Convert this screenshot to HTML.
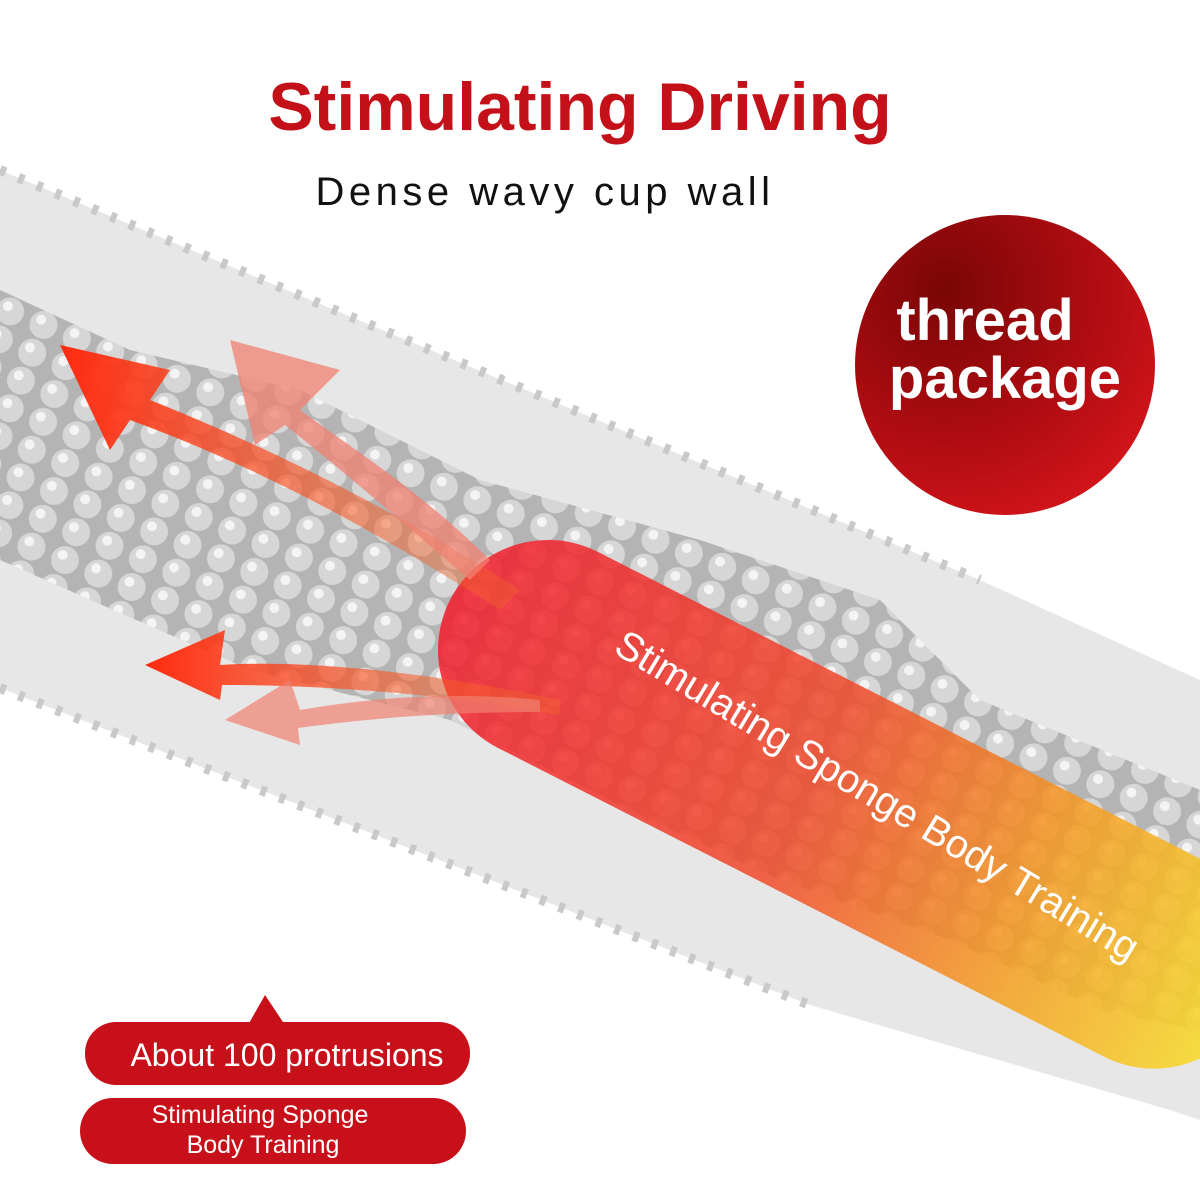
<!DOCTYPE html>
<html><head><meta charset="utf-8"><style>
html,body{margin:0;padding:0;background:#fff;}
svg{display:block}
</style></head><body>
<svg width="1200" height="1200" viewBox="0 0 1200 1200" xmlns="http://www.w3.org/2000/svg">
<defs>
<linearGradient id="blob" x1="0" y1="0" x2="1" y2="0">
<stop offset="0" stop-color="#f21c2c" stop-opacity="0.85"/>
<stop offset="0.45" stop-color="#f04a2a" stop-opacity="0.85"/>
<stop offset="0.75" stop-color="#f5a020" stop-opacity="0.85"/>
<stop offset="1" stop-color="#f7e030" stop-opacity="0.9"/>
</linearGradient>
<radialGradient id="circ" cx="0.3" cy="0.25" r="0.9">
<stop offset="0" stop-color="#7a0606"/>
<stop offset="0.6" stop-color="#b30d12"/>
<stop offset="1" stop-color="#d9161c"/>
</radialGradient>
<linearGradient id="arr" x1="1" y1="0" x2="0" y2="0">
<stop offset="0" stop-color="#f5702a" stop-opacity="0.3"/>
<stop offset="1" stop-color="#ff2a10"/>
</linearGradient>
<pattern id="dots" width="36" height="30" patternUnits="userSpaceOnUse" patternTransform="rotate(22)">
<rect width="36" height="30" fill="#b4b4b4"/>
<circle cx="18" cy="15" r="14" fill="#d6d6d6"/>
<circle cx="14" cy="11" r="5" fill="#f4f4f4"/>
</pattern>
</defs>
<polygon points="0,170 980,580 1200,680 1200,1120 1170,1110 810,1005 0,688" fill="#e7e7e7"/>
<polyline points="0,170 980,580" stroke="#c9c9c9" stroke-width="10" stroke-dasharray="6 14" fill="none"/>
<polyline points="0,688 810,1005" stroke="#c9c9c9" stroke-width="10" stroke-dasharray="6 14" fill="none"/>
<path d="M0,290 L130,350 L300,390 L480,480 L700,540 L880,600 L980,700 L1200,790 L1200,1030 L1100,1010 L950,940 L780,880 L650,820 L450,720 L250,670 L0,560 Z" fill="url(#dots)"/>
<g transform="translate(450,600) rotate(27)">
<rect x="0" y="-110" width="900" height="220" rx="110" fill="url(#blob)"/>
</g>
<path d="M520,590 C380,500 250,440 150,400 L170,370 L60,345 L110,450 L130,420 C240,460 360,520 500,610 Z" fill="url(#arr)"/>
<path d="M490,560 C420,490 340,440 300,410 L340,370 L230,340 L255,445 L285,425 C330,460 400,520 470,580 Z" fill="#f08070" opacity="0.75"/>
<path d="M560,700 C420,670 300,660 220,665 L225,630 L145,665 L220,700 L222,685 C300,685 420,690 560,715 Z" fill="url(#arr)"/>
<path d="M540,700 C440,690 360,700 300,710 L290,680 L225,720 L300,745 L298,728 C370,718 450,712 540,712 Z" fill="#f08070" opacity="0.7"/>
<text x="580" y="130" text-anchor="middle" font-family="Liberation Sans, sans-serif" font-weight="bold" font-size="68" fill="#c41018" stroke="#fff" stroke-width="6" paint-order="stroke">Stimulating Driving</text>
<text x="545" y="205" text-anchor="middle" font-family="Liberation Sans, sans-serif" font-size="40" letter-spacing="4.5" fill="#111">Dense wavy cup wall</text>
<circle cx="1005" cy="365" r="150" fill="url(#circ)"/>
<text x="985" y="340" text-anchor="middle" font-family="Liberation Sans, sans-serif" font-weight="bold" font-size="58" fill="#fff">thread</text>
<text x="1005" y="398" text-anchor="middle" font-family="Liberation Sans, sans-serif" font-weight="bold" font-size="58" fill="#fff">package</text>
<text transform="translate(612,652) rotate(31)" font-family="Liberation Sans, sans-serif" font-size="40" fill="#fff">Stimulating Sponge Body Training</text>
<polygon points="265,995 248,1025 285,1025" fill="#c8101a"/>
<rect x="85" y="1022" width="385" height="63" rx="31" fill="#c8101a"/>
<text x="287" y="1066" text-anchor="middle" font-family="Liberation Sans, sans-serif" font-size="32" fill="#fff">About 100 protrusions</text>
<rect x="80" y="1098" width="386" height="66" rx="33" fill="#c8101a"/>
<text x="260" y="1123" text-anchor="middle" font-family="Liberation Sans, sans-serif" font-size="25" fill="#fff">Stimulating Sponge</text>
<text x="263" y="1153" text-anchor="middle" font-family="Liberation Sans, sans-serif" font-size="25" fill="#fff">Body Training</text>
</svg>
</body></html>
